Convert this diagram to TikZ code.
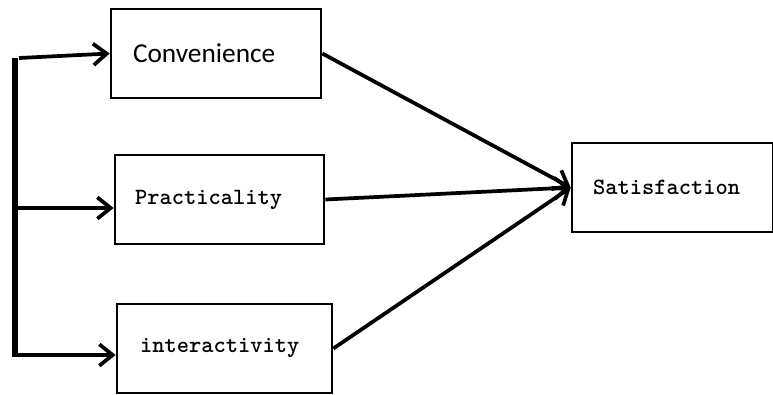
\documentclass[tikz,border=0pt]{standalone}
\usepackage{fontspec}
\usepackage{xcolor}
\usepackage{tikz}
\usetikzlibrary{positioning, arrows.meta, calc}
\newfontfamily\calib{Carlito}
\definecolor{inkblack}{HTML}{000000}

\begin{document}
\begin{tikzpicture}[x=0.75pt, y=-0.75pt,
    factor/.style={draw=inkblack, line width=2pt, minimum height=66.75pt,
                   align=left, inner ysep=0pt},
    link/.style={draw=inkblack, line width=2.8pt,
                 -{Straight Barb[length=10pt, width=16pt, line width=2.8pt]}}]
    \useasboundingbox (0,0) rectangle (773,394);
    % the four boxes
    \node[factor, inner xsep=16.5pt, text width=124.5pt] (conv) at (216,53.5)
      {\calib\fontsize{20.5}{24}\selectfont Convenience};
    \node[factor, inner xsep=15pt, text width=126.75pt] (prac) at (219.5,199.5)
      {\ttfamily\bfseries\fontsize{17.5}{20}\selectfont Practicality};
    \node[factor, inner xsep=17.25pt, text width=126.75pt] (inter) at (224.5,348.5)
      {\ttfamily\bfseries\fontsize{17.5}{20}\selectfont interactivity};
    \node[factor, inner xsep=15.75pt, text width=119.25pt] (sat) at (672.5,187.5)
      {\ttfamily\bfseries\fontsize{17.5}{20}\selectfont Satisfaction};
    % bar on the left
    \coordinate (bartop) at (15,58);
    \coordinate (barbot) at (15,357);
    \coordinate (feedA) at (19,58);
    \coordinate (feedB) at (12,208);
    \coordinate (feedC) at (12,355);
    \draw[line width=3.8pt] (bartop) -- (barbot);
    \draw[link] (feedA) -- (conv.west);
    \draw[link] (feedB) -- (feedB -| prac.west);
    \draw[link] (feedC) -- (feedC -| inter.west);
    % into satisfaction
    \draw[link] (conv.east) -- (sat.west);
    \draw[link] (prac.east) -- (sat.west);
    \draw[link] (inter.east) -- (sat.west);
  \end{tikzpicture}
\end{document}
